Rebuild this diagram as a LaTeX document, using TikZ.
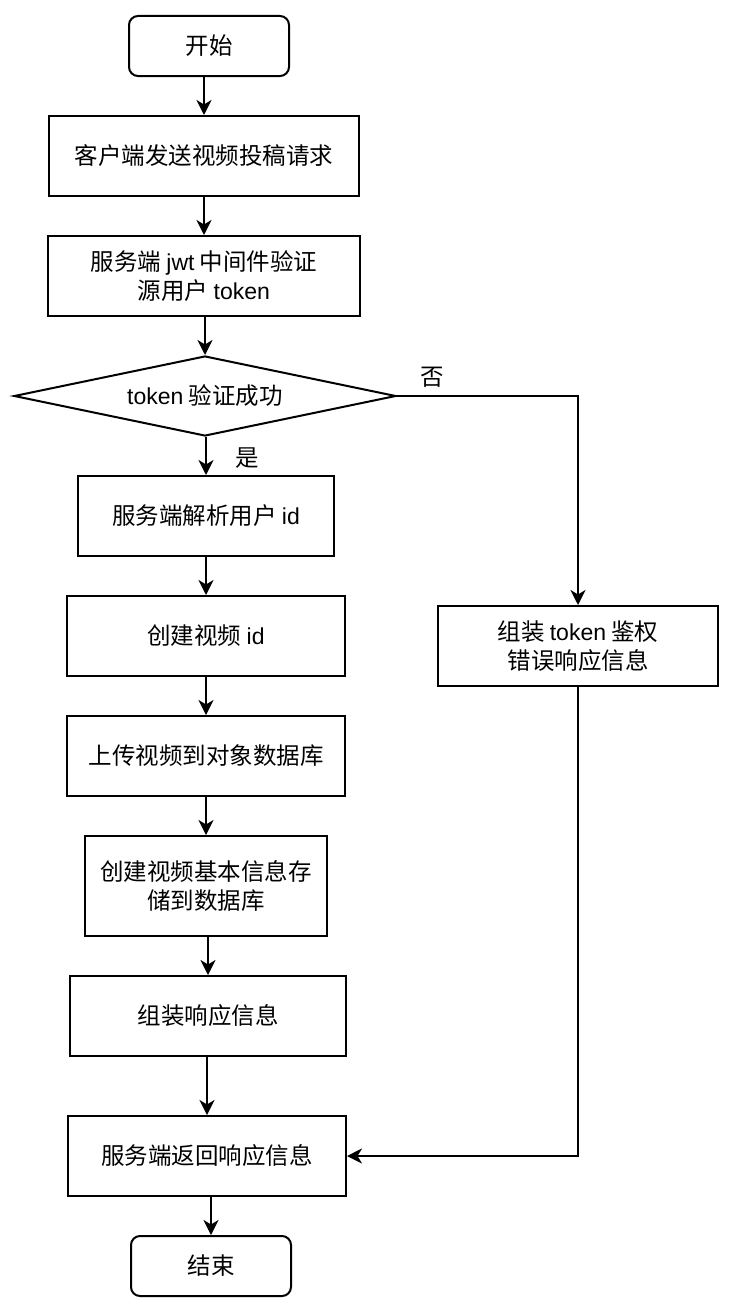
\documentclass[tikz,border=0pt]{standalone}
\usepackage{fontspec}
\setmainfont{Noto Sans CJK SC}
\newfontfamily\lat{Liberation Sans}[Scale=0.98]
\usetikzlibrary{shapes.geometric,arrows.meta}
\begin{document}
\begin{tikzpicture}[x=1pt,y=-1pt,
  every node/.style={font=\fontsize{23.5}{29}\selectfont, text=black},
  proc/.style={draw, line width=2pt, minimum height=80pt, inner sep=0pt, align=center},
  term/.style={proc, rounded corners=9pt, minimum width=160pt, minimum height=60pt},
  decision/.style={draw, shape=diamond, line width=2pt, aspect=4.775,
    minimum width=382pt, minimum height=80pt, inner sep=0pt},
  flow/.style={line width=2pt, -{Stealth[length=15pt,width=15pt,inset=4.5pt]}},
  lbl/.style={inner sep=0pt}]
\useasboundingbox (0,0) rectangle (735,1314);

% main column
\node[term] (start) at (209,46) {开始};
\node[proc, minimum width=310pt] (req) at (204,156) {客户端发送视频投稿请求};
\node[proc, minimum width=312pt] (jwt) at (204,276) {服务端 {\lat jwt} 中间件验证\\源用户 {\lat token}};
\node[decision] (dia) at (205,396) {{\lat token} 验证成功};
\node[proc, minimum width=256pt] (uid) at (206,516) {服务端解析用户 {\lat id}};
\node[proc, minimum width=278pt] (vid) at (206,636) {创建视频 {\lat id}};
\node[proc, minimum width=278pt] (upl) at (206,756) {上传视频到对象数据库};
\node[proc, minimum width=242pt, minimum height=100pt] (meta) at (206,886) {创建视频基本信息存\\储到数据库};
\node[proc, minimum width=276pt] (resp) at (208,1016) {组装响应信息};
\node[proc, minimum width=278pt] (ret) at (207,1156) {服务端返回响应信息};
\node[term] (stop) at (211,1266) {结束};

% error branch
\node[proc, minimum width=280pt] (err) at (578,646) {组装 {\lat token} 鉴权\\错误响应信息};

% connectors
\draw[flow] (req |- start.south) -- (req);
\draw[flow] (jwt |- req.south) -- (jwt);
\draw[flow] (dia |- jwt.south) -- (dia);
\draw[flow] (uid |- dia.south) -- (uid);
\draw[flow] (vid |- uid.south) -- (vid);
\draw[flow] (upl |- vid.south) -- (upl);
\draw[flow] (meta |- upl.south) -- (meta);
\draw[flow] (resp |- meta.south) -- (resp);
\draw[flow] (ret |- resp.south) -- (ret);
\draw[flow] (stop |- ret.south) -- (stop);
\draw[flow] (dia.east) -| (err);
\draw[flow] (err) |- (ret);

% branch labels
\node[lbl] (yes) at (247,458) {是};
\node[lbl] (no) at (432,377) {否};
\end{tikzpicture}
\end{document}
